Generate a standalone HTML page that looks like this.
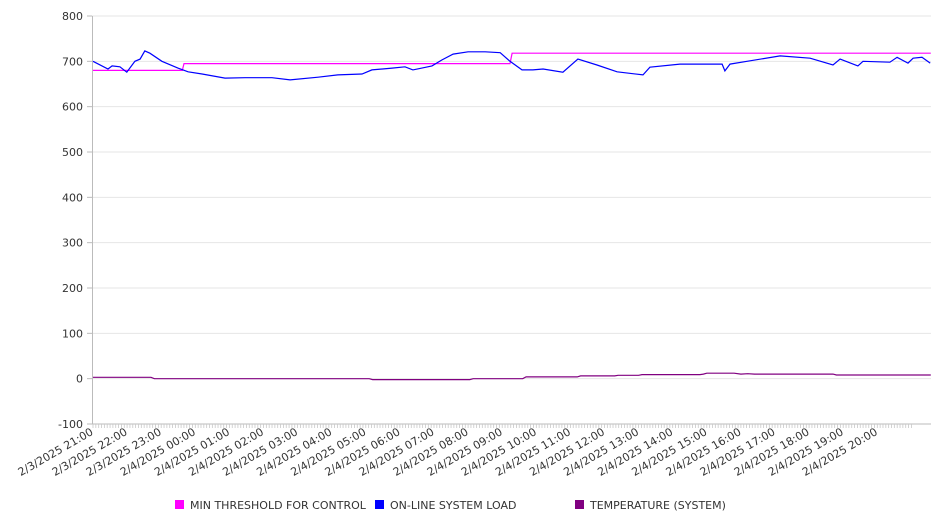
<!DOCTYPE html>
<html><head><meta charset="utf-8"><style>
html,body{margin:0;padding:0;background:#fff;}
svg{display:block;font-family:"DejaVu Sans","Liberation Sans",sans-serif;}
</style></head><body>
<svg id="chart" width="946" height="526" viewBox="0 0 946 526" xmlns="http://www.w3.org/2000/svg">
<g id="grid"></g>
<g id="yaxis"></g>
<g id="xaxis"></g>
<g id="series"></g>
<g id="legend"></g>
</svg>
<script>
const yTicks = [800,700,600,500,400,300,200,100,0,-100];
const xTickLabels = ["2/3/2025 21:00","2/3/2025 22:00","2/3/2025 23:00","2/4/2025 00:00","2/4/2025 01:00","2/4/2025 02:00","2/4/2025 03:00","2/4/2025 04:00","2/4/2025 05:00","2/4/2025 06:00","2/4/2025 07:00","2/4/2025 08:00","2/4/2025 09:00","2/4/2025 10:00","2/4/2025 11:00","2/4/2025 12:00","2/4/2025 13:00","2/4/2025 14:00","2/4/2025 15:00","2/4/2025 16:00","2/4/2025 17:00","2/4/2025 18:00","2/4/2025 19:00","2/4/2025 20:00"];
const loadTimes = [0,0.44,0.56,0.79,0.99,1.23,1.38,1.52,1.67,2.02,2.49,2.79,3.2,3.87,4.46,5.25,5.78,6.6,7.18,7.89,8.18,8.77,9.15,9.38,9.94,10.23,10.56,11.0,11.5,11.94,12.23,12.58,12.9,13.2,13.78,14.22,14.78,15.37,16.13,16.33,17.21,18.45,18.53,18.68,19.18,20.15,21.03,21.7,21.91,22.43,22.58,23.37,23.58,23.9,24.05,24.31,24.55];
const loadValues = [700,683,690,688,676,700,705,723,718,700,685,677,672,663,664,664,659,665,670,672,681,685,688,681,690,703,716,721,721,719,700,681,681,683,676,705,692,677,670,687,694,694,679,694,700,712,707,692,705,690,700,698,709,696,707,709,696];
const threshTimes = [0,2.62,2.67,12.23,12.29,24.57];
const threshValues = [680,680,695,695,718,718];
const tempTimes = [0,1.7,1.8,8.1,8.2,11.05,11.15,12.6,12.7,14.2,14.3,15.3,15.4,16.0,16.1,17.8,17.9,18.0,18.8,19.0,19.2,19.4,21.7,21.8,24.57];
const tempValues = [3,3,0,0,-2,-2,0,0,4,4,6,6,7.5,7.5,9,9,10,12,12,10,11,10,10,8,8];
const legendLabels = ["MIN THRESHOLD FOR CONTROL","ON-LINE SYSTEM LOAD","TEMPERATURE (SYSTEM)"];
const legendColors = ["#ff00ff","#0000ff","#800080"];

const NS="http://www.w3.org/2000/svg";
const X0=93, PXH=34.1, LEFT=92, RIGHT=931, TOP=16, BOT=424;
function xS(h){return X0+h*PXH;}
function yS(v){return TOP+(800-v)*(BOT-TOP)/900;}
function mk(tag,parent){const e=document.createElementNS(NS,tag);parent.appendChild(e);return e;}
const grid=document.getElementById('grid'),yax=document.getElementById('yaxis'),xax=document.getElementById('xaxis'),ser=document.getElementById('series'),leg=document.getElementById('legend');

yTicks.forEach(v=>{
  const l=mk('line',grid);
  
  
  l.setAttribute('x1',LEFT);l.setAttribute('x2',RIGHT);l.setAttribute('y1',yS(v));l.setAttribute('y2',yS(v));
  l.setAttribute('stroke',v===-100?'#bbb':'#e6e6e6');l.setAttribute('stroke-width','1');
  const tk=mk('line',yax);
  
  
  tk.setAttribute('x1',LEFT-5);tk.setAttribute('x2',LEFT);tk.setAttribute('y1',yS(v));tk.setAttribute('y2',yS(v));tk.setAttribute('stroke','#bbb');
  const t=mk('text',yax);
  
  
  t.setAttribute('x',83);t.setAttribute('y',yS(v)+4);t.setAttribute('text-anchor','end');t.setAttribute('font-size','11');t.setAttribute('fill','#333');
  t.textContent=v;
});
const ax=mk('line',yax);


ax.setAttribute('x1',LEFT+0.5);ax.setAttribute('x2',LEFT+0.5);ax.setAttribute('y1',TOP);ax.setAttribute('y2',BOT);ax.setAttribute('stroke','#bbb');

for(let m=0;m<=24*12;m++){
  const tk=mk('line',xax);
  
  
  const x=xS(m/12);
  tk.setAttribute('x1',x);tk.setAttribute('x2',x);tk.setAttribute('y1',BOT);tk.setAttribute('y2',BOT+4);tk.setAttribute('stroke','#c8c8c8');tk.setAttribute('stroke-width','0.8');
}
xTickLabels.forEach((s,i)=>{
  const t=mk('text',xax);
  
  
  const x=xS(i)+1,y=BOT+10;
  t.setAttribute('x',x);t.setAttribute('y',y);t.setAttribute('text-anchor','end');t.setAttribute('font-size','11');t.setAttribute('fill','#333');
  t.setAttribute('transform','rotate(-30 '+x+' '+y+')');
  t.textContent=s;
});

function drawLine(times,vals,color,name){
  const p=mk('polyline',ser);
  
  
  p.setAttribute('points',times.map((t,i)=>Math.max(LEFT,xS(t)).toFixed(1)+','+yS(vals[i]).toFixed(1)).join(' '));
  p.setAttribute('fill','none');p.setAttribute('stroke',color);p.setAttribute('stroke-width','1.2');
}
drawLine(tempTimes,tempValues,'#800080','temperature-line');
drawLine(threshTimes,threshValues,'#ff00ff','min-threshold-line');
drawLine(loadTimes,loadValues,'#0000ff','system-load-line');

const legX=[175,375,575];
legendLabels.forEach((s,i)=>{
  const r=mk('rect',leg);
  
  
  r.setAttribute('x',legX[i]);r.setAttribute('y',500);r.setAttribute('width',9);r.setAttribute('height',9);r.setAttribute('fill',legendColors[i]);
  const t=mk('text',leg);
  
  
  t.setAttribute('x',legX[i]+15);t.setAttribute('y',509);t.setAttribute('font-size','11');t.setAttribute('fill','#333');
  t.textContent=s;
});
</script>
</body></html>
